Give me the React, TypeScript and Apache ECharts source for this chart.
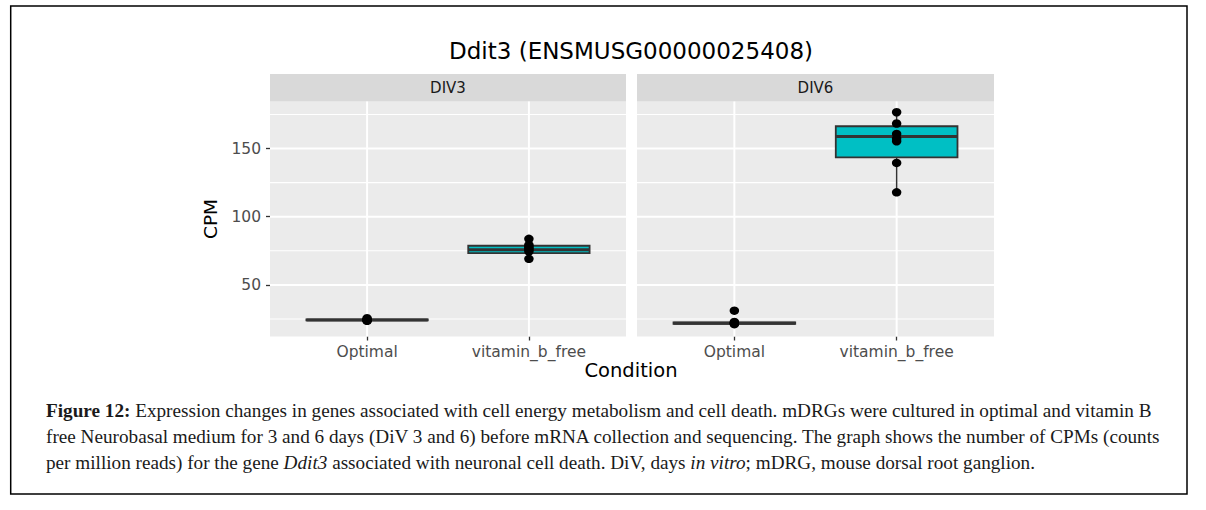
import React, { useEffect, useRef } from "react";
import * as echarts from "echarts";

const FACETS = ["DIV3", "DIV6"];
const CATEGORIES = ["Optimal", "vitamin_b_free"];
const BOX_FILLS = ["#F8766D", "#00BFC4"];

// box stats: [low whisker, Q1, median, Q3, high whisker]
const DIV3_OPTIMAL_BOX = [23.6, 23.9, 24.3, 24.6, 25.5];
const DIV3_VITB_BOX = [69.1, 73.3, 75.7, 78.7, 83.8];
const DIV6_OPTIMAL_BOX = [21.2, 21.4, 21.9, 22.4, 22.8];
const DIV6_VITB_BOX = [117.9, 143.6, 158.8, 166.4, 176.7];

// individual samples (CPM)
const DIV3_OPTIMAL_PTS = [23.6, 24.0, 24.3, 24.6, 25.5, 24.2];
const DIV3_VITB_PTS = [69.1, 74.5, 76.0, 77.0, 78.2, 79.4, 83.8];
const DIV6_OPTIMAL_PTS = [31.1, 22.8, 22.2, 21.6, 21.2, 21.8];
const DIV6_VITB_PTS = [117.9, 139.5, 155.4, 157.4, 160.8, 168.4, 176.7];

const Y_MIN = 12.13;
const Y_MAX = 184.56;
const Y_MAJOR = [50, 100, 150];
const Y_MINOR = [25, 75, 125, 175];
const X_POS = [1, 2];

const TITLE = "Ddit3 (ENSMUSG00000025408)";
const CAPTION_LINES = [
  "{b|Figure 12:} Expression changes in genes associated with cell energy metabolism and cell death. mDRGs were cultured in optimal and vitamin B",
  "free Neurobasal medium for 3 and 6 days (DiV 3 and 6) before mRNA collection and sequencing. The graph shows the number of CPMs (counts",
  "per million reads) for the gene {i|Ddit3} associated with neuronal cell death. DiV, days {i|in vitro}; mDRG, mouse dorsal root ganglion.",
];

const FACET_BOXES = [
  [DIV3_OPTIMAL_BOX, DIV3_VITB_BOX],
  [DIV6_OPTIMAL_BOX, DIV6_VITB_BOX],
];
const FACET_POINTS = [
  [DIV3_OPTIMAL_PTS, DIV3_VITB_PTS],
  [DIV6_OPTIMAL_PTS, DIV6_VITB_PTS],
];

const SANS = "DejaVu Sans";
const SERIF = "Liberation Serif";
const CAP_SIZE = 19.2;

export default function App() {
  const ref = useRef<HTMLDivElement>(null);

  useEffect(() => {
    document.body.style.margin = "0";
    if (!ref.current) return;
    const chart = echarts.init(ref.current, null, { renderer: "svg" });

    const grids = [
      { left: 270, top: 101.5, width: 356, height: 235 },
      { left: 637, top: 101.5, width: 357, height: 235 },
    ];

    const xAxes: any[] = [];
    const yAxes: any[] = [];
    const series: any[] = [];

    grids.forEach((g, gi) => {
      xAxes.push({
        type: "value",
        gridIndex: gi,
        min: 0.4,
        max: 2.6,
        splitLine: { show: false },
        axisLine: { show: false },
        axisTick: {
          show: true,
          customValues: X_POS,
          length: 4,
          lineStyle: { color: "#333333", width: 1.3 },
        },
        axisLabel: {
          show: true,
          customValues: X_POS,
          margin: 7,
          fontFamily: SANS,
          fontSize: 15.5,
          color: "#4d4d4d",
          formatter: (v: number) => CATEGORIES[Math.round(v) - 1] ?? "",
        },
      });
      yAxes.push({
        type: "value",
        gridIndex: gi,
        min: Y_MIN,
        max: Y_MAX,
        splitLine: { show: false },
        axisLine: { show: false },
        axisTick: {
          show: gi === 0,
          customValues: Y_MAJOR,
          length: 4,
          lineStyle: { color: "#333333", width: 1.3 },
        },
        axisLabel: {
          show: gi === 0,
          customValues: Y_MAJOR,
          margin: 9,
          fontFamily: SANS,
          fontSize: 15.5,
          color: "#4d4d4d",
        },
      });

      const gridData: number[][] = [];
      Y_MINOR.forEach((v) => gridData.push([0, v, 0]));
      Y_MAJOR.forEach((v) => gridData.push([0, v, 1]));
      X_POS.forEach((v) => gridData.push([1, v, 1]));

      series.push({
        type: "custom",
        name: "grid-" + gi,
        xAxisIndex: gi,
        yAxisIndex: gi,
        z: 1,
        silent: true,
        data: gridData,
        encode: { x: -1, y: -1 },
        renderItem: (params: any, api: any) => {
          const cs = params.coordSys;
          const orient = api.value(0);
          const v = api.value(1);
          const major = api.value(2);
          const lw = major ? 2 : 1.1;
          if (orient === 0) {
            const y = api.coord([1, v])[1];
            return {
              type: "line",
              shape: { x1: cs.x, y1: y, x2: cs.x + cs.width, y2: y },
              style: { stroke: "#ffffff", lineWidth: lw },
            };
          }
          const x = api.coord([v, 50])[0];
          return {
            type: "line",
            shape: { x1: x, y1: cs.y, x2: x, y2: cs.y + cs.height },
            style: { stroke: "#ffffff", lineWidth: lw },
          };
        },
      });

      const boxData = FACET_BOXES[gi].map((b, ci) => [X_POS[ci], ...b, ci]);
      series.push({
        type: "custom",
        name: FACETS[gi] + " box",
        xAxisIndex: gi,
        yAxisIndex: gi,
        z: 2,
        data: boxData,
        encode: { x: 0, y: [1, 2, 3, 4, 5] },
        renderItem: (params: any, api: any) => {
          const x = api.value(0);
          const low = api.value(1);
          const q1 = api.value(2);
          const med = api.value(3);
          const q3 = api.value(4);
          const high = api.value(5);
          const ci = api.value(6);
          const hw = 0.375;
          const pLow = api.coord([x, low]);
          const pHigh = api.coord([x, high]);
          const pQ1 = api.coord([x, q1]);
          const pQ3 = api.coord([x, q3]);
          const pL = api.coord([x - hw, q3]);
          const pR = api.coord([x + hw, q1]);
          const mL = api.coord([x - hw, med]);
          const mR = api.coord([x + hw, med]);
          const stroke = "#333333";
          return {
            type: "group",
            children: [
              {
                type: "line",
                shape: { x1: pLow[0], y1: pLow[1], x2: pQ1[0], y2: pQ1[1] },
                style: { stroke, lineWidth: 1.5 },
              },
              {
                type: "line",
                shape: { x1: pQ3[0], y1: pQ3[1], x2: pHigh[0], y2: pHigh[1] },
                style: { stroke, lineWidth: 1.5 },
              },
              {
                type: "rect",
                shape: {
                  x: pL[0],
                  y: pL[1],
                  width: pR[0] - pL[0],
                  height: pR[1] - pL[1],
                },
                style: { fill: BOX_FILLS[ci], stroke, lineWidth: 1.8 },
              },
              {
                type: "line",
                shape: { x1: mL[0], y1: mL[1], x2: mR[0], y2: mR[1] },
                style: { stroke, lineWidth: 3 },
              },
            ],
          };
        },
      });

      const pts: number[][] = [];
      FACET_POINTS[gi].forEach((arr, ci) => arr.forEach((v) => pts.push([X_POS[ci], v])));
      series.push({
        type: "scatter",
        name: FACETS[gi] + " samples",
        xAxisIndex: gi,
        yAxisIndex: gi,
        z: 3,
        symbol: "circle",
        symbolSize: [9.5, 8.5],
        itemStyle: { color: "#000000", opacity: 1 },
        data: pts,
      });
    });

    const graphics: any[] = [
      {
        type: "rect",
        shape: { x: 10.7, y: 6, width: 1176.3, height: 488 },
        style: { fill: "none", stroke: "#000000", lineWidth: 1.5 },
        z: 0,
      },
      {
        type: "text",
        x: 631,
        y: 51,
        style: {
          text: TITLE,
          font: `23px "${SANS}"`,
          fill: "#000000",
          align: "center",
          verticalAlign: "middle",
        },
      },
      {
        type: "text",
        x: 210,
        y: 219,
        rotation: Math.PI / 2,
        style: {
          text: "CPM",
          font: `18.5px "${SANS}"`,
          fill: "#000000",
          align: "center",
          verticalAlign: "middle",
        },
      },
      {
        type: "text",
        x: 631,
        y: 370,
        style: {
          text: "Condition",
          font: `19.5px "${SANS}"`,
          fill: "#000000",
          align: "center",
          verticalAlign: "middle",
        },
      },
    ];

    grids.forEach((g, gi) => {
      graphics.push({
        type: "rect",
        shape: { x: g.left, y: 74, width: g.width, height: g.top - 74 },
        style: { fill: "#d9d9d9" },
      });
      graphics.push({
        type: "text",
        x: g.left + g.width / 2,
        y: 88,
        style: {
          text: FACETS[gi],
          font: `15px "${SANS}"`,
          fill: "#1a1a1a",
          align: "center",
          verticalAlign: "middle",
        },
      });
    });

    const capY = [410, 436, 462];
    CAPTION_LINES.forEach((line, i) => {
      graphics.push({
        type: "text",
        x: 46,
        y: capY[i],
        style: {
          text: line,
          fontFamily: SERIF,
          fontSize: CAP_SIZE,
          fill: "#1a1a1a",
          align: "left",
          verticalAlign: "middle",
          rich: {
            b: { fontFamily: SERIF, fontSize: CAP_SIZE, fontWeight: "bold", fill: "#1a1a1a" },
            i: { fontFamily: SERIF, fontSize: CAP_SIZE, fontStyle: "italic", fill: "#1a1a1a" },
          },
        },
      });
    });

    chart.setOption({
      animation: false,
      backgroundColor: "#ffffff",
      grid: grids.map((g) => ({
        ...g,
        show: true,
        backgroundColor: "#ebebeb",
        borderWidth: 0,
        containLabel: false,
      })),
      xAxis: xAxes,
      yAxis: yAxes,
      series,
      graphic: graphics,
    });

    return () => chart.dispose();
  }, []);

  return <div ref={ref} style={{ width: 1206, height: 510 }} />;
}
